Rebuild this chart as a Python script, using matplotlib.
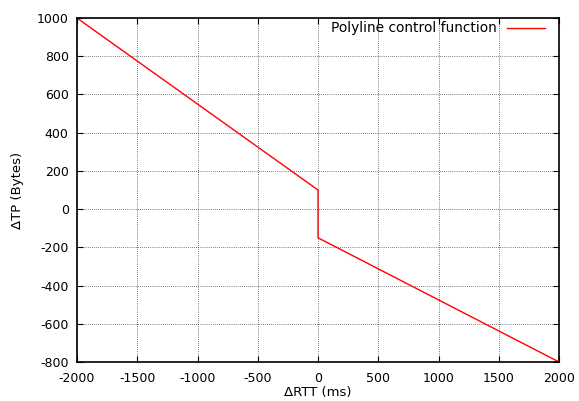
import matplotlib
matplotlib.use('Agg')
import matplotlib.pyplot as plt

# polyline control function
drtt = [-2000, 0, 0, 2000]
dtp = [1000, 100, -150, -800]

xticks = [-2000, -1500, -1000, -500, 0, 500, 1000, 1500, 2000]
yticks = [-800, -600, -400, -200, 0, 200, 400, 600, 800, 1000]

plt.rcParams['font.family'] = ['DejaVu Sans']
plt.rcParams['font.size'] = 9
plt.rcParams['axes.unicode_minus'] = False

fig = plt.figure(figsize=(5.79, 4.01), dpi=100)
ax = fig.add_axes([0.133, 0.0973, 0.8325, 0.8577])

ax.plot(drtt, dtp, color='red', linewidth=1, label='Polyline control function')

ax.set_xlim(-2000, 2000)
ax.set_ylim(-800, 1000)
ax.set_xticks(xticks)
ax.set_yticks(yticks)
ax.tick_params(direction='in', top=True, right=True, length=4, width=0.8,
               labelsize=9, colors='black')
ax.tick_params(axis='x', pad=7)
ax.tick_params(axis='y', pad=6)
ax.grid(True, color='black', linestyle=(0, (1, 2)), linewidth=0.5)
for s in ax.spines.values():
    s.set_linewidth(1.2)

ax.set_xlabel('\u0394RTT (ms)', fontsize=9.5, labelpad=1)
ax.set_ylabel('\u0394TP (Bytes)', fontsize=9.5, labelpad=9)

leg = ax.legend(loc='upper right', frameon=False, fontsize=9.9, handlelength=2.75,
                markerfirst=False, borderaxespad=0, handletextpad=0.75,
                bbox_to_anchor=(0.982, 1.006))

fig.savefig('out.png', dpi=100)
